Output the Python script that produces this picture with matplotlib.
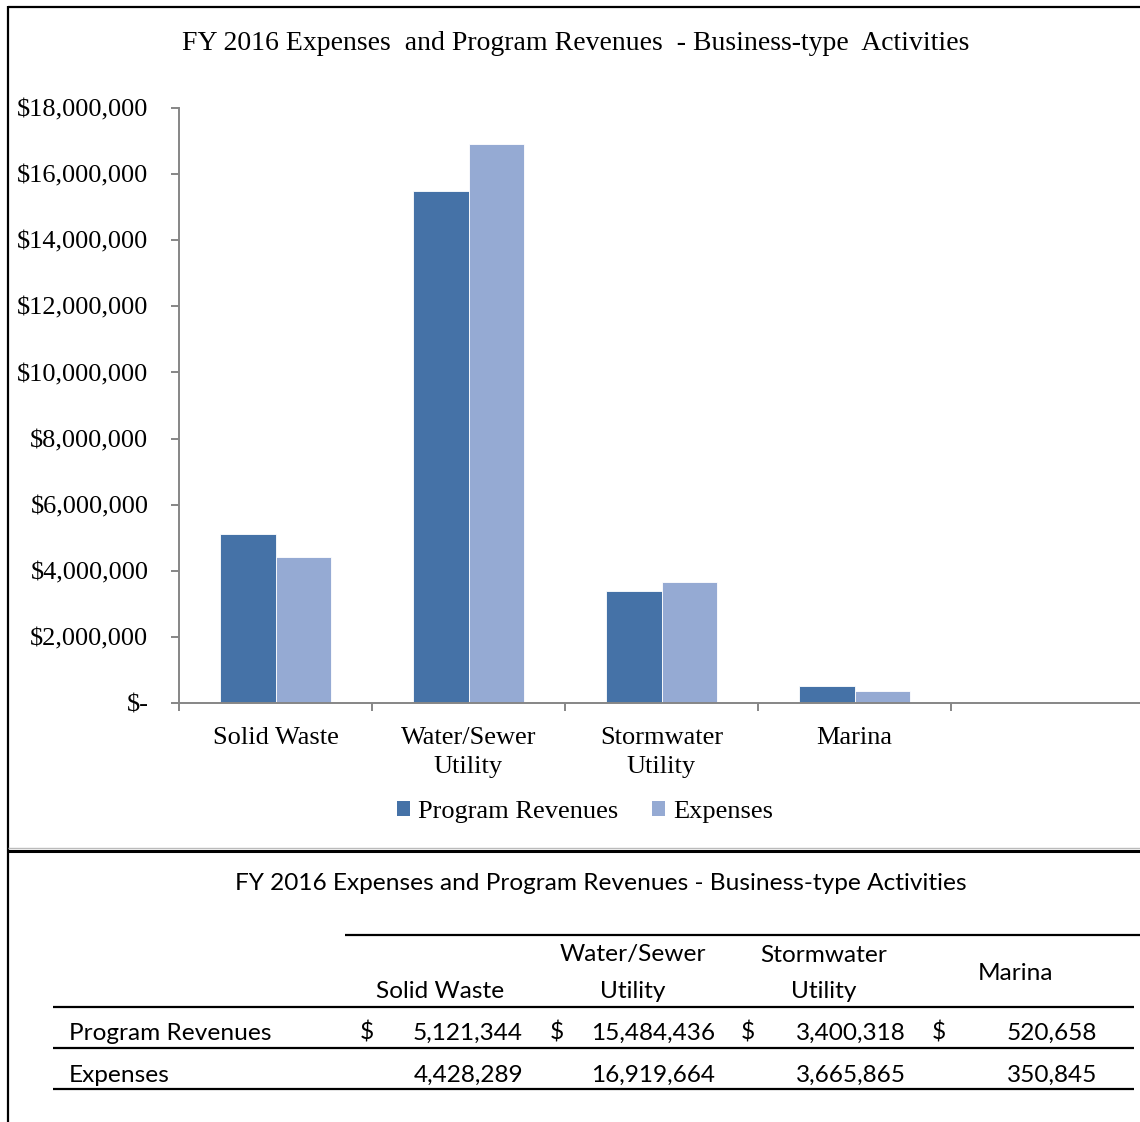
import matplotlib
matplotlib.use("Agg")
import matplotlib.pyplot as plt
from matplotlib.lines import Line2D
from matplotlib.patches import Patch
import numpy as np

# ---- data ----
categories = ["Solid Waste", "Water/Sewer\nUtility", "Stormwater\nUtility", "Marina"]
table_headers = ["Solid Waste", "Water/Sewer\nUtility", "Stormwater\nUtility", "Marina"]
program_revenues = [5121344, 15484436, 3400318, 520658]
expenses = [4428289, 16919664, 3665865, 350845]
series_names = ["Program Revenues", "Expenses"]
y_ticks = [0, 2000000, 4000000, 6000000, 8000000, 10000000, 12000000, 14000000, 16000000, 18000000]
chart_title = "FY 2016 Expenses  and Program Revenues  - Business-type  Activities"
table_title = "FY 2016 Expenses and Program Revenues - Business-type Activities"

W, H = 1140, 1122
fig = plt.figure(figsize=(W / 100, H / 100), dpi=100)

def fx(x):
    return x / W

def fy(y):
    return 1 - y / H

SERIF = "Liberation Serif"
SANS = "Lato"
FS = 19
TFS = 17.6
dark = "#4572A7"
light = "#95AAD3"
axis_gray = "#868686"

# ---- chart ----
left_px, right_px = 179, 1144
top_px, bottom_px = 108, 703
ax = fig.add_axes([fx(left_px), fy(bottom_px), (right_px - left_px) / W, (bottom_px - top_px) / H])
n_slots = 5
x = np.arange(len(categories))
bw = 1 / 3.5
ax.bar(x - bw / 2, program_revenues, width=bw, color=dark, edgecolor="white", linewidth=0.6,
       label=series_names[0])
ax.bar(x + bw / 2, expenses, width=bw, color=light, edgecolor="white", linewidth=0.6,
       label=series_names[1])
ax.set_xlim(-0.5, n_slots - 0.5)
ax.set_ylim(0, 18000000)

for s in ["top", "right"]:
    ax.spines[s].set_visible(False)
for s in ["left", "bottom"]:
    ax.spines[s].set_color(axis_gray)
    ax.spines[s].set_linewidth(1.4)

ax.set_yticks(y_ticks)
ax.set_yticklabels(["$-" if v == 0 else "${:,.0f}".format(v) for v in y_ticks],
                   fontfamily=SERIF, fontsize=FS)
ax.tick_params(axis="y", length=6, width=1.4, color=axis_gray, pad=16)

ax.set_xticks(x)
ax.set_xticklabels(categories, fontfamily=SERIF, fontsize=FS, linespacing=1.45)
ax.tick_params(axis="x", which="major", length=0, pad=17)
ax.set_xticks(np.arange(n_slots + 1) - 0.5, minor=True)
ax.tick_params(axis="x", which="minor", length=6, width=1.4, color=axis_gray)

fig.text(fx(576), fy(43), chart_title, ha="center", va="center", fontfamily=SERIF, fontsize=20)

handles = [Patch(facecolor=dark, edgecolor="none"), Patch(facecolor=light, edgecolor="none")]
fig.legend(handles, series_names, loc="center", bbox_to_anchor=(fx(585), fy(812)), ncol=2,
           frameon=False, prop={"family": SERIF, "size": FS}, handlelength=0.5, handleheight=0.5,
           handletextpad=0.3, columnspacing=1.3, borderaxespad=0)

# ---- frame lines ----
def hline(y, x0, x1, lw, color="black"):
    fig.add_artist(Line2D([fx(x0), fx(x1)], [fy(y), fy(y)], lw=lw, color=color, solid_capstyle="butt"))

def vline(x, y0, y1, lw, color="black"):
    fig.add_artist(Line2D([fx(x), fx(x)], [fy(y0), fy(y1)], lw=lw, color=color, solid_capstyle="butt"))

hline(7, 8, W, 1.6)
vline(8, 6, H, 1.6)
hline(848, 8, W, 1.0, color="#BBBBBB")
hline(851, 8, W, 2.2)

# ---- table ----
fig.text(fx(601), fy(883), table_title, ha="center", va="center", fontfamily=SANS, fontsize=TFS)
hline(935, 345, W, 1.6)
hline(1007, 53, 1134, 1.6)
hline(1048, 53, 1134, 1.6)
hline(1089, 53, 1134, 1.6)

col_centers = [440, 633, 824, 1015]
dollar_x = [367, 557, 748, 939]
num_right = [523, 715, 906, 1097]
header_single_y = [991, 991, 991, 973]
for i, h in enumerate(table_headers):
    parts = h.split("\n")
    if len(parts) == 2:
        fig.text(fx(col_centers[i]), fy(955), parts[0], ha="center", va="center", fontfamily=SANS, fontsize=TFS)
        fig.text(fx(col_centers[i]), fy(991), parts[1], ha="center", va="center", fontfamily=SANS, fontsize=TFS)
    else:
        fig.text(fx(col_centers[i]), fy(header_single_y[i]), h, ha="center", va="center", fontfamily=SANS, fontsize=TFS)

row_y = [1033, 1075]
for r, (name, vals) in enumerate(zip(series_names, [program_revenues, expenses])):
    fig.text(fx(69), fy(row_y[r]), name, ha="left", va="center", fontfamily=SANS, fontsize=TFS)
    for i, v in enumerate(vals):
        if r == 0:
            fig.text(fx(dollar_x[i]), fy(row_y[r]), "$", ha="center", va="center", fontfamily=SANS, fontsize=TFS)
        fig.text(fx(num_right[i]), fy(row_y[r]), "{:,}".format(v), ha="right", va="center", fontfamily=SANS, fontsize=TFS)

fig.savefig("out.png", dpi=100)
